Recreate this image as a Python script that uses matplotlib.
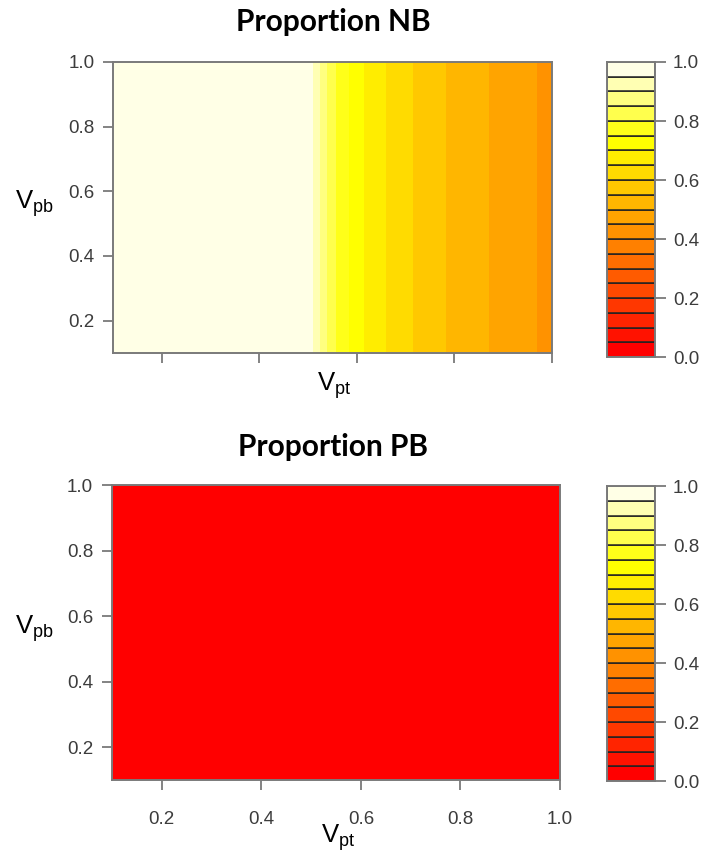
import numpy as np
import matplotlib
matplotlib.use("Agg")
import matplotlib.pyplot as plt
import colorsys

plt.rcParams['font.family'] = ['Liberation Sans', 'DejaVu Sans']
plt.rcParams['mathtext.fontset'] = 'custom'
plt.rcParams['mathtext.rm'] = 'Liberation Sans'
plt.rcParams['mathtext.it'] = 'Liberation Sans'

# ---- data ----
vpt = [0.100, 0.200, 0.300, 0.400, 0.500, 0.525, 0.550, 0.575, 0.600, 0.625,
       0.650, 0.675, 0.700, 0.725, 0.750, 0.775, 0.800, 0.825, 0.850, 0.875,
       0.900, 0.925, 0.950, 0.975, 1.000]
nb_profile = [0.99, 0.99, 0.99, 0.99, 0.99, 0.897, 0.814, 0.766, 0.719, 0.684,
              0.660, 0.636, 0.613, 0.592, 0.574, 0.555, 0.540, 0.526, 0.512, 0.498,
              0.485, 0.472, 0.460, 0.447, 0.435]
vpb = [0.1, 0.2, 0.3, 0.4, 0.5, 0.6, 0.7, 0.8, 0.9, 1.0]
pb_profile = [0.0] * len(vpt)
titles = ["Proportion NB", "Proportion PB"]
ticks = [0.2, 0.4, 0.6, 0.8, 1.0]
cbar_ticks = [0.0, 0.2, 0.4, 0.6, 0.8, 1.0]

# ---- heat.colors(20) as in R ----
n = 20
j = n // 4
i = n - j
cols = []
for k in range(i):
    h = (k / (i - 1)) * (1 / 6)
    cols.append(colorsys.hsv_to_rgb(h, 1, 1))
for s in np.linspace(1 - 1 / (2 * j), 1 / (2 * j), j):
    cols.append(colorsys.hsv_to_rgb(1 / 6, s, 1))
levels = np.linspace(0, 1, n + 1)

W, H = 709, 863
fig = plt.figure(figsize=(W / 100, H / 100), dpi=100)

def px_axes(x0, y0, x1, y1):
    return fig.add_axes([x0 / W, 1 - y1 / H, (x1 - x0) / W, (y1 - y0) / H])

spine_c = '#7a7a7a'
text_c = '#3c3c3c'

panels = [
    dict(box=(113, 62, 552, 353), cbox=(607, 62, 655, 357), prof=nb_profile,
         title_y=22, xlab_y=386, xticklabels=False),
    dict(box=(112, 485, 560, 780), cbox=(607, 486, 655, 781), prof=pb_profile,
         title_y=447, xlab_y=838, xticklabels=True),
]

for p, title in zip(panels, titles):
    ax = px_axes(*p['box'])
    X, Y = np.meshgrid(vpt, vpb)
    Z = np.tile(np.array(p['prof']), (len(vpb), 1))
    ax.contourf(X, Y, Z, levels=levels, colors=cols, antialiased=False)
    ax.set_xlim(0.1, 1.0)
    ax.set_ylim(0.1, 1.0)
    ax.set_xticks(ticks)
    ax.set_yticks(ticks)
    ax.set_yticklabels([f"{t:.1f}" for t in ticks])
    if p['xticklabels']:
        ax.set_xticklabels([f"{t:.1f}" for t in ticks])
    else:
        ax.set_xticklabels([])
    ax.tick_params(direction='out', length=7.5, width=1.3, color=spine_c,
                   labelsize=13.5, labelcolor=text_c, pad=6)
    ax.tick_params(axis='x', pad=15)
    for sp in ax.spines.values():
        sp.set_color(spine_c)
        sp.set_linewidth(1.4)
    x0, y0, x1, y1 = p['box']
    fig.text(333 / W, 1 - p['title_y'] / H, title,
             ha='center', va='center', fontsize=21.5, fontweight='bold',
             family=['Lato', 'DejaVu Sans'], color='black')
    fig.text(((x0 + x1) / 2 + 2) / W, 1 - p['xlab_y'] / H, r"V$_{\mathrm{pt}}$",
             ha='center', va='center', fontsize=18.5, color='black')
    fig.text(34 / W, 1 - ((y0 + y1) / 2 - 4) / H, r"V$_{\mathrm{pb}}$",
             ha='center', va='center', fontsize=18.5, color='black')

    # colour key
    cax = px_axes(*p['cbox'])
    for k in range(n):
        cax.bar(0.5, levels[k + 1] - levels[k], bottom=levels[k], width=1.0,
                color=cols[k], edgecolor='#222222', linewidth=1.1)
    cax.set_xlim(0, 1)
    cax.set_ylim(0, 1)
    cax.set_xticks([])
    cax.yaxis.tick_right()
    cax.set_yticks(cbar_ticks)
    cax.set_yticklabels([f"{t:.1f}" for t in cbar_ticks])
    cax.tick_params(axis='y', direction='out', length=8, width=1.3, color=spine_c,
                    labelsize=13.5, labelcolor=text_c, pad=5)
    for sp in cax.spines.values():
        sp.set_color(spine_c)
        sp.set_linewidth(1.4)

fig.savefig("out.png", dpi=100, facecolor='white')
